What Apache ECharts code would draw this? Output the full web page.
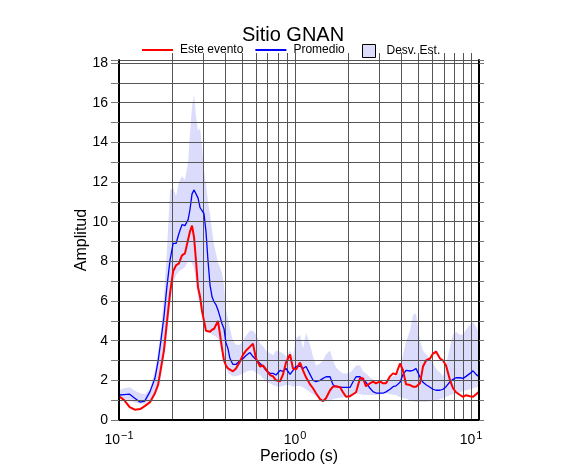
<!DOCTYPE html>
<html>
<head>
<meta charset="utf-8">
<script src="https://cdn.jsdelivr.net/npm/echarts@6/dist/echarts.min.js"></script>
<style>html,body{margin:0;padding:0;background:#fff}#c{width:586px;height:475px}</style>
</head>
<body>
<div id="c"></div>
<script>
const periods = [0.100,0.107,0.115,0.123,0.132,0.140,0.150,0.160,0.167,0.173,
0.180,0.187,0.195,0.203,0.211,0.219,0.228,0.237,0.247,0.253,
0.260,0.267,0.274,0.281,0.289,0.296,0.304,0.312,0.320,0.329,
0.338,0.347,0.356,0.365,0.375,0.385,0.395,0.405,0.416,0.427,
0.444,0.462,0.487,0.507,0.527,0.555,0.577,0.600,0.633,0.658,
0.684,0.721,0.750,0.780,0.822,0.855,0.889,0.937,0.974,1.013,
1.068,1.110,1.155,1.217,1.266,1.316,1.387,1.443,1.500,1.581,
1.644,1.710,1.802,1.874,1.949,2.054,2.136,2.222,2.341,2.435,
2.532,2.668,2.775,2.886,3.041,3.162,3.289,3.466,3.605,3.749,
3.950,4.108,4.273,4.502,4.682,4.870,5.131,5.337,5.551,5.848,
6.083,6.326,6.666,6.933,7.211,7.598,7.902,8.218,8.660,9.006,
9.368,9.870,10.27,10.68,11.10];

const esteEvento = [1.2,1.0,0.65,0.52,0.55,0.7,0.9,1.35,1.8,2.6,
3.5,4.9,6.4,7.5,7.8,7.9,8.3,8.4,9.1,9.5,
9.8,9.2,8.0,6.7,6.2,5.5,5.0,4.5,4.45,4.45,
4.55,4.6,4.5,5.0,4.3,3.6,3.0,2.75,2.6,2.5,
2.45,2.6,2.95,3.3,3.5,3.7,3.85,3.1,2.7,2.75,
2.55,2.27,2.2,2.0,1.95,2.3,2.9,3.3,2.6,2.55,
2.9,2.5,2.15,1.8,1.6,1.35,1.05,0.95,1.1,1.5,
1.68,1.7,1.65,1.4,1.17,1.2,1.3,1.4,2.1,2.1,
1.7,1.85,1.93,1.85,1.95,1.85,1.85,2.2,2.35,2.3,
2.85,2.5,1.8,1.76,1.68,1.68,1.85,2.7,3.0,3.1,
3.35,3.45,3.1,3.0,2.75,2.0,1.6,1.4,1.26,1.17,
1.25,1.2,1.17,1.3,1.43];

const promedio = [1.26,1.28,1.3,1.1,0.9,0.95,1.43,2.1,3.0,4.0,
5.2,6.7,8.06,8.9,8.9,9.4,9.85,9.8,10.1,10.6,
11.4,11.6,11.6,11.2,10.7,10.75,10.4,9.5,8.1,6.8,
6.2,5.95,5.8,5.55,5.2,4.85,4.6,3.9,3.6,3.1,
2.8,2.8,3.0,3.1,3.25,3.4,3.2,3.05,2.85,2.7,
2.5,2.35,2.35,2.27,2.5,2.45,2.6,2.3,2.5,2.7,
2.72,2.6,2.7,2.3,2.0,1.93,2.0,2.1,2.18,2.18,
1.78,1.68,1.66,1.64,1.64,1.64,1.93,2.18,2.18,2.0,
1.9,1.6,1.43,1.36,1.35,1.35,1.42,1.55,1.68,1.72,
1.9,2.3,2.5,2.47,2.5,2.6,2.15,1.9,1.78,1.65,
1.55,1.5,1.5,1.55,1.68,1.93,2.05,2.13,2.13,2.1,
2.2,2.35,2.48,2.3,2.18];

const desvUpper = [1.5,1.6,1.65,1.48,1.35,1.3,1.55,2.5,3.5,4.5,
6.2,8.5,11.6,11.7,11.3,12.0,12.3,12.1,13.0,14.4,
15.8,16.4,15.3,14.6,14.7,13.8,12.6,11.9,11.0,10.4,
9.5,8.8,8.4,7.9,7.7,7.4,6.8,5.6,5.1,4.6,
4.0,3.8,3.8,4.0,4.25,4.5,4.5,4.3,3.86,3.7,
3.5,3.36,3.27,3.5,3.44,3.36,3.2,3.5,3.2,4.1,
4.3,3.6,4.4,3.8,3.2,2.75,2.85,3.0,3.3,3.5,
3.0,2.65,2.45,2.35,2.35,2.4,2.55,2.75,2.75,2.45,
2.35,2.15,2.05,1.95,1.93,1.93,1.95,2.1,2.2,2.27,
2.5,3.3,3.95,4.5,5.3,5.37,4.0,3.5,3.3,3.1,
2.9,2.6,2.4,2.2,2.8,3.7,4.3,4.45,4.3,4.3,
4.55,4.8,4.95,4.7,4.4];

const desvLower = [1.15,1.05,0.98,0.88,0.82,0.82,1.0,1.25,1.6,2.2,
3.1,4.3,5.8,6.9,7.3,7.5,7.6,7.7,8.0,8.0,
7.9,7.6,7.0,6.2,5.8,5.4,5.0,4.7,4.5,4.4,
4.3,4.25,4.2,4.1,3.8,3.4,2.9,2.6,2.4,2.3,
2.2,2.2,2.27,2.35,2.43,2.5,2.5,2.4,2.27,2.1,
1.95,1.85,1.76,1.7,1.68,1.72,1.76,1.75,1.68,1.72,
1.72,1.65,1.55,1.4,1.3,1.2,1.05,1.0,1.0,1.0,
1.05,1.09,1.12,1.15,1.17,1.25,1.3,1.35,1.3,1.27,
1.26,1.26,1.26,1.26,1.3,1.33,1.35,1.3,1.27,1.26,
1.15,1.1,1.09,1.0,0.95,0.92,0.92,0.92,0.92,0.95,
0.98,1.0,1.05,1.1,1.17,1.25,1.3,1.35,1.4,1.45,
1.5,1.55,1.6,1.65,1.68];

const xGridValues = [0.2,0.3,0.4,0.5,0.6,0.7,0.8,0.9,1,2,3,4,5,6,7,8,9,10];
const yTickStep = 1;

const FONT = 'Liberation Sans';
const chart = echarts.init(document.getElementById('c'), null, {renderer: 'canvas'});

const pair = (xs, ys) => xs.map((x, i) => [x, ys[i]]);
const bandData = periods.map((p, i) => [p, desvLower[i], desvUpper[i]]);

function renderBand(params, api) {
  if (params.dataIndex !== 0) return null;
  const pts = [];
  for (let i = 0; i < bandData.length; i++) pts.push(api.coord([bandData[i][0], bandData[i][2]]));
  for (let i = bandData.length - 1; i >= 0; i--) pts.push(api.coord([bandData[i][0], bandData[i][1]]));
  return {
    type: 'polygon',
    shape: {points: pts},
    style: {fill: 'rgba(170,170,245,0.42)', stroke: null}
  };
}

const gridLineStyle = {color: '#555', width: 1, type: 'solid', opacity: 1};

const option = {
  animation: false,
  backgroundColor: '#fff',
  title: {
    text: 'Sitio GNAN', left: 'center', top: 20,
    textStyle: {fontFamily: FONT, fontSize: 20, fontWeight: 'normal', color: '#000'}
  },
  legend: [{
    left: 137, top: 39, itemWidth: 31, itemHeight: 2, itemGap: 12,
    icon: 'rect',
    data: ['Este evento', 'Promedio'],
    textStyle: {fontFamily: FONT, fontSize: 12, color: '#000', padding: [0, 0, 0, 2]}
  }, {
    left: 357, top: 39, itemWidth: 13, itemHeight: 13,
    data: [{name: 'Desv. Est.', icon: 'rect', itemStyle: {color: '#dcdcfb', borderColor: '#000', borderWidth: 1}}],
    textStyle: {fontFamily: FONT, fontSize: 12, color: '#000', padding: [0, 0, 0, 6]}
  }],
  grid: [
    {left: 119, top: 60, width: 360, height: 360, containLabel: false},
    {left: 119, top: 53, width: 360, height: 7, containLabel: false}
  ],
  xAxis: [{
    type: 'log', logBase: 10, min: 0.1, max: 11.1, position: 'bottom',
    axisLine: {show: true, lineStyle: {color: '#000', width: 2}},
    axisTick: {show: false},
    splitLine: {show: false},
    axisLabel: {
      margin: 10, color: '#000', fontFamily: FONT, fontSize: 14,
      showMaxLabel: false,
      formatter: function (v) {
        const e = Math.round(Math.log10(v));
        if (Math.abs(Math.pow(10, e) - v) > 1e-6 * v) return '';
        const s = e < 0 ? '\u2212' + (-e) : String(e);
        return '{b|10}{s|' + s + '}';
      },
      rich: {
        b: {fontFamily: FONT, fontSize: 14, color: '#000'},
        s: {fontFamily: FONT, fontSize: 11, color: '#000', padding: [0, 0, 9, 1]}
      }
    },
    name: 'Periodo (s)', nameLocation: 'middle', nameGap: 29, nameMoveOverlap: false,
    nameTextStyle: {fontFamily: FONT, fontSize: 16, color: '#000'},
    z: 10
  }, {
    type: 'log', logBase: 10, min: 0.1, max: 11.1, position: 'top',
    axisLine: {show: true, lineStyle: {color: '#000', width: 2}},
    axisTick: {show: false}, axisLabel: {show: false}, splitLine: {show: false},
    z: 10
  }, {
    gridIndex: 1, type: 'log', logBase: 10, min: 0.1, max: 11.1, show: false
  }],
  yAxis: [{
    type: 'value', min: 0, max: 18.15, interval: yTickStep, position: 'left',
    axisLine: {show: true, lineStyle: {color: '#000', width: 2}},
    axisTick: {show: true, length: 8, lineStyle: {color: '#777', width: 1}},
    splitLine: {show: true, lineStyle: {color: '#555', width: 1}},
    axisLabel: {
      margin: 11, color: '#000', fontFamily: FONT, fontSize: 14,
      formatter: v => (Math.abs(v - Math.round(v)) < 1e-9 && Math.round(v) % 2 === 0) ? String(Math.round(v)) : ''
    },
    name: 'Amplitud', nameLocation: 'middle', nameGap: 29, nameMoveOverlap: false,
    nameTextStyle: {fontFamily: FONT, fontSize: 16, color: '#000'},
    z: 10
  }, {
    type: 'value', min: 0, max: 18.15, interval: yTickStep, position: 'right',
    axisLine: {show: true, lineStyle: {color: '#000', width: 2}},
    axisTick: {show: true, length: 5, lineStyle: {color: '#777', width: 1}},
    splitLine: {show: false}, axisLabel: {show: false},
    z: 10
  }, {
    gridIndex: 1, type: 'value', min: 0, max: 1, show: false
  }],
  series: [{
    name: 'Desv. Est.', type: 'custom', data: bandData,
    encode: {x: 0, y: [1, 2]},
    renderItem: renderBand, z: 1, silent: true,
    itemStyle: {color: '#dcdcfb'}
  }, {
    name: 'Promedio', type: 'line', data: pair(periods, promedio),
    symbol: 'none', z: 6, itemStyle: {color: '#0000ff'},
    lineStyle: {color: '#0000ff', width: 1.3},
    markLine: {
      silent: true, symbol: ['none', 'none'], animation: false, z: 3,
      label: {show: false}, lineStyle: gridLineStyle,
      emphasis: {disabled: true},
      data: xGridValues.map(v => ({xAxis: v}))
    }
  }, {
    name: 'Este evento', type: 'line', data: pair(periods, esteEvento),
    symbol: 'none', z: 7, itemStyle: {color: '#ff0000'},
    lineStyle: {color: '#ff0000', width: 2}
  }, {
    name: 'topTicks', type: 'scatter', xAxisIndex: 2, yAxisIndex: 2,
    data: [[1, 0.5]], symbolSize: 0, silent: true,
    markLine: {
      silent: true, symbol: ['none', 'none'], animation: false,
      label: {show: false}, lineStyle: gridLineStyle,
      emphasis: {disabled: true},
      data: xGridValues.map(v => ({xAxis: v}))
    }
  }]
};
chart.setOption(option);
</script>
</body>
</html>
